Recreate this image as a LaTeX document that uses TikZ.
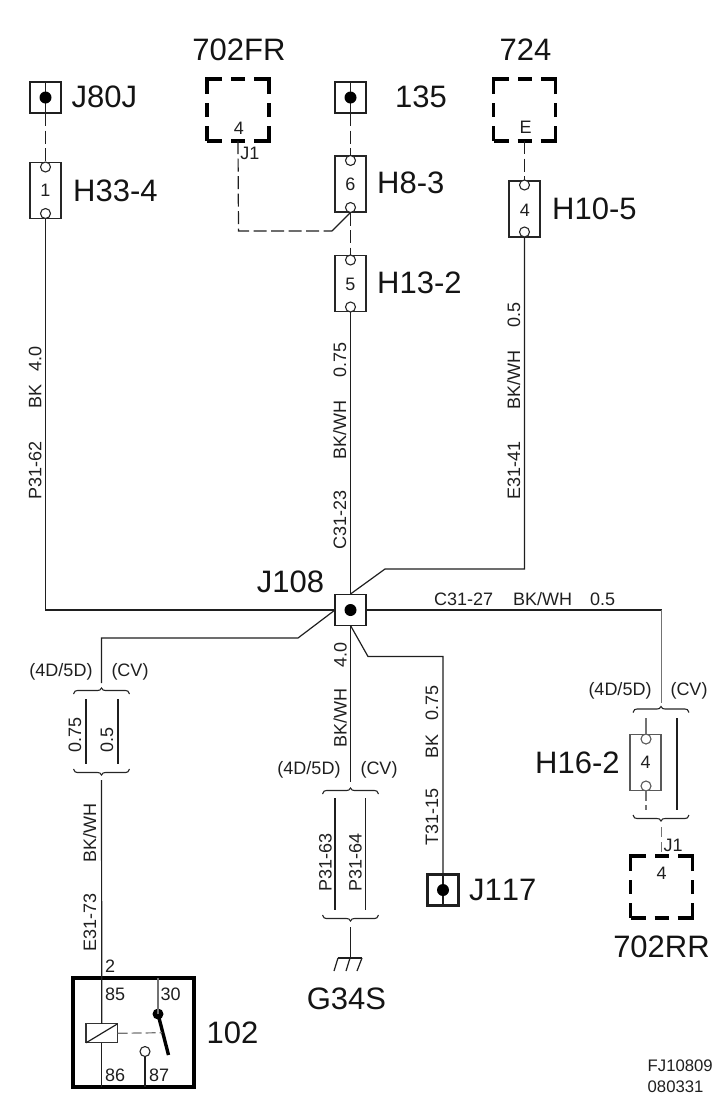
\documentclass[tikz,border=0pt]{standalone}
\usepackage{fontspec}
\setmainfont{Liberation Sans}
\newcommand{\fsz}[1]{\fontsize{#1}{#1}\selectfont}
\tikzset{
  wirel/.style={line width=1.2pt,draw=black!88},
  greyw/.style={line width=1.2pt,draw=black!55},
  dashw/.style={wirel,dash pattern=on 13pt off 4.5pt},
  jbox/.style={draw=black!88,rectangle,line width=2.2pt,minimum size=31pt,inner sep=0pt,outer sep=0pt},
  jdot/.style={circle,fill=black,draw=none,minimum size=12pt,inner sep=0pt,outer sep=0pt},
  hbox/.style={draw=black!85,rectangle,line width=1.1pt,minimum width=31pt,minimum height=56pt,inner sep=0pt,outer sep=0pt},
  pinc/.style={circle,draw=black!85,fill=white,line width=1.1pt,minimum size=10pt,inner sep=0pt,outer sep=0pt},
  dbox/.style={draw=black,rectangle,line width=3.4pt,minimum size=62pt,inner sep=0pt,outer sep=0pt,dash pattern=on 30pt off 9pt on 14pt off 9pt,dash phase=15pt},
  big/.style={font=\fsz{31},inner sep=0pt,text=black!92},
  bigl/.style={big,anchor=west},
  small/.style={font=\fsz{18},inner sep=0pt,text=black!88},
  smalll/.style={small,anchor=west},
  wl/.style={font=\fsz{18},inner sep=0pt,rotate=90,anchor=base west,text=black!88},
  hl/.style={font=\fsz{18},inner sep=0pt,anchor=base west,text=black!88},
  bracetop/.pic={\draw[line width=1.1pt,draw=black!85] (-28,6) .. controls (-27,3) and (-26,2.5) .. (-24,2.5) -- (-4,2.5) .. controls (-2,2.5) and (-1,2) .. (0,0) .. controls (1,2) and (2,2.5) .. (4,2.5) -- (24,2.5) .. controls (26,2.5) and (27,3) .. (28,6);}
}
\begin{document}
\begin{tikzpicture}[x=1pt,y=-1pt]
\useasboundingbox (0,0) rectangle (728,1112);
% boxes
\node[jbox] (J80) at (45.5,97.5) {};
\node[jbox] (B135) at (350.5,97.5) {};
\node[jbox,line width=1.8pt] (J108) at (350.5,610) {};
\node[jbox,line width=2.6pt] (J117) at (443,890) {};
\node[hbox] (H33) at (45.5,190.5) {};
\node[hbox] (H8) at (350.5,184) {};
\node[hbox] (H13) at (350.5,283.5) {};
\node[hbox] (H10) at (524.5,209) {};
\node[hbox,draw=black!65] (H16) at (645.5,762.5) {};
\node[dbox] (FR) at (238,110) {};
\node[dbox] (V724) at (524.5,110) {};
\node[dbox] (RR) at (661.5,887) {};
\node[draw=black,rectangle,line width=4pt,minimum width=121pt,minimum height=109pt,inner sep=0pt,outer sep=0pt] (relay) at (133.5,1032.5) {};
% coordinates
\coordinate (fr1) at (238.5,231);
\coordinate (fr2) at (332,231);
\coordinate (h10e) at (524.5,569);
\coordinate (h10d) at (385,569);
\coordinate (jn) at (350.5,594);
\coordinate (lc) at (45.5,610);
\coordinate (a1) at (298,638);
\coordinate (a2) at (101.5,638);
\coordinate (a3) at (101.5,683);
\coordinate (a4) at (101.5,780);
\coordinate (b3) at (350.5,782);
\coordinate (b4) at (350.5,927);
\coordinate (gnd) at (350.5,958);
\coordinate (c1) at (368,656.5);
\coordinate (c2) at (443,656.5);
\coordinate (d1) at (661.5,610);
\coordinate (d2) at (661.5,702.5);
\coordinate (d3) at (661.5,827);
\coordinate (e1) at (646,718);
\coordinate (e2) at (646,810);
\coordinate (f1) at (677,718);
\coordinate (f2) at (677,810);
\coordinate (s1) at (86,699);
\coordinate (s2) at (86,764);
\coordinate (s3) at (118,699);
\coordinate (s4) at (118,764);
\coordinate (t1) at (335,798);
\coordinate (t2) at (335,910);
\coordinate (t3) at (365.5,798);
\coordinate (t4) at (365.5,910);
% wires
\draw[wirel] (J80.north) -- (J80.center) -- (J80.south);
\draw[wirel] (B135.north) -- (B135.center) -- (B135.south);
\draw[wirel] (J117.north) -- (J117.south);
\node[pinc] (p33a) at (45.5,167) {};
\node[pinc] (p33b) at (45.5,213.5) {};
\node[pinc] (p8a) at (350.5,160.5) {};
\node[pinc] (p8b) at (350.5,207.5) {};
\node[pinc] (p13a) at (350.5,260) {};
\node[pinc] (p13b) at (350.5,307) {};
\node[pinc] (p10a) at (524.5,185) {};
\node[pinc] (p10b) at (524.5,232) {};
\node[pinc,draw=black!65] (p16a) at (646,739) {};
\node[pinc,draw=black!65] (p16b) at (646,786) {};
\draw[dashw] (J80.south) -- (p33a.north);
\draw[dashw] (B135.south) -- (p8a.north);
\draw[dashw] (p8b.south) -- (p13a.north);
\draw[dashw] (V724.south) -- (p10a.north);
\draw[dashw] (FR.south) -- (fr1) -- (fr2);
\draw[wirel] (fr2) -- (p8b.south);
\draw[wirel] (p33b.south) -- (lc) -- (J108.west);
\draw[wirel] (p13b.south) -- (J108.north);
\draw[wirel] (p10b.south) -- (h10e) -- (h10d) -- (jn);
\draw[wirel] (J108.west) -- (a1) -- (a2) -- (a3);
\draw[wirel] (J108.east) -- (d1);
\draw[greyw] (d1) -- (d2);
\draw[wirel] (J108.south) -- (b3);
\draw[wirel] (J108.south) -- (c1) -- (c2) -- (J117.north);
\draw[wirel] (s1) -- (s2);
\draw[wirel] (s3) -- (s4);
\draw[wirel] (t1) -- (t2);
\draw[wirel] (t3) -- (t4);
\draw[greyw] (e1) -- (p16a.north);
\draw[greyw,dash pattern=on 10pt off 4pt] (p16b.south) -- (e2);
\draw[wirel] (f1) -- (f2);
\draw[greyw,dash pattern=on 10pt off 5pt] (d3) -- (RR.north);
\draw[wirel] (b4) -- (gnd);
\draw[wirel] (338,958) -- (362,958);
\draw[wirel] (338,958) -- (334,971);
\draw[wirel] (350,958) -- (346,971);
\draw[wirel] (362,958) -- (357,971);
\pic at (101.5,688) {bracetop};
\pic[yscale=-1] at (101.5,775) {bracetop};
\pic at (350.5,788) {bracetop};
\pic[yscale=-1] at (350.5,921) {bracetop};
\pic at (661,706.5) {bracetop};
\pic[yscale=-1] at (661,821) {bracetop};
% dots
\node[jdot] (d80) at (J80.center) {};
\node[jdot] (d135) at (B135.center) {};
\node[jdot] (d108) at (J108.center) {};
\node[jdot] (d117) at (J117.center) {};
% pin numbers
\node[small] (n1) at (45.5,190.5) {1};
\node[small] (n6) at (350.5,184) {6};
\node[small] (n5) at (350.5,284) {5};
\node[small] (n4a) at (525,210) {4};
\node[small] (n4b) at (645.5,762) {4};
\node[small] (n4c) at (239,128) {4};
\node[small] (nE) at (525.5,127) {E};
\node[small] (n4d) at (661.5,873) {4};
\node[small] (nj1) at (250,153) {J1};
\node[small] (nj2) at (673,845.5) {J1};
% big labels
\node[bigl] (lJ80) at (71.5,97) {J80J};
\node[bigl] (lH33) at (73,190.5) {H33-4};
\node[big] (l702) at (239,50) {702FR};
\node[big] (l135) at (421,97) {135};
\node[big] (l724) at (525.5,50) {724};
\node[bigl] (lH8) at (377,183) {H8-3};
\node[bigl] (lH13) at (377,283) {H13-2};
\node[bigl] (lH10) at (552,209) {H10-5};
\node[big] (lJ108) at (290.5,581.5) {J108};
\node[bigl] (lJ117) at (469,890) {\addfontfeature{Kerning=Off}J117};
\node[bigl] (lH16) at (535,762.5) {H16-2};
\node[big] (lRR) at (661.5,947) {702RR};
\node[big] (lG) at (346.5,999) {G34S};
\node[big] (l102) at (232.5,1032.5) {102};
% brace labels
\node[small] (v1) at (61,672) {(4D/5D)};
\node[small] (v2) at (130,672) {(CV)};
\node[small] (v3) at (309,770) {(4D/5D)};
\node[small] (v4) at (379,770) {(CV)};
\node[small] (v5) at (620,690.5) {(4D/5D)};
\node[small] (v6) at (689,690.5) {(CV)};
% wire labels
\node[wl] (w1) at (41.5,500) {P31-62};
\node[wl] (w2) at (41.5,409) {BK};
\node[wl] (w3) at (41.5,372) {4.0};
\node[wl] (w4) at (346,550) {C31-23};
\node[wl] (w5) at (346,460) {BK/WH};
\node[wl] (w6) at (346,378) {0.75};
\node[wl] (w7) at (520,500) {E31-41};
\node[wl] (w8) at (520,410) {BK/WH};
\node[wl] (w9) at (520,328) {0.5};
\node[wl] (w10) at (81,753) {0.75};
\node[wl] (w11) at (113,753) {0.5};
\node[wl] (w12) at (96,863) {BK/WH};
\node[wl] (w13) at (96,952) {E31-73};
\node[wl] (w14) at (346.5,748) {BK/WH};
\node[wl] (w15) at (346.5,668) {4.0};
\node[wl] (w16) at (331.5,892) {P31-63};
\node[wl] (w17) at (361.5,892) {P31-64};
\node[wl] (w18) at (438,846) {T31-15};
\node[wl] (w19) at (438,759) {BK};
\node[wl] (w20) at (438,721) {0.75};
\node[hl] (w21) at (434,605.5) {C31-27};
\node[hl] (w22) at (513,605.5) {BK/WH};
\node[hl] (w23) at (590,605.5) {0.5};
% relay
\node[draw=black!80,rectangle,line width=1.3pt,minimum width=31.5pt,minimum height=19pt,inner sep=0pt,outer sep=0pt] (coil) at (101.8,1033.3) {};
\draw[wirel] (a4) -- (coil.north);
\draw[wirel] (coil.south) -- (coil.south |- relay.south);
\draw[wirel] (coil.south west) -- (coil.north east);
\node[jdot,minimum size=11pt] (sw) at (158,1014) {};
\coordinate (swtip) at (168.5,1055);
\draw[line width=3.4pt,draw=black] (sw.center) -- (swtip);
\draw[greyw] (sw.center |- relay.north) -- (sw.center);
\coordinate (sw2) at (162,1032.7);
\draw[greyw,dash pattern=on 10pt off 4pt] (coil.east) -- (sw2);
\node[pinc] (p87) at (145,1051.5) {};
\draw[wirel] (p87.south) -- (p87.south |- relay.south);
\node[smalll] (r2) at (105,966.5) {2};
\node[smalll] (r85) at (105,994) {85};
\node[smalll] (r30) at (160.5,994) {30};
\node[smalll] (r86) at (105,1075) {86};
\node[smalll] (r87) at (149,1075) {87};
% code
\node[smalll,font=\fsz{16.7}] (fj1) at (647.5,1065.5) {FJ10809};
\node[smalll,font=\fsz{16.7}] (fj2) at (647.5,1086.5) {080331};
\end{tikzpicture}
\end{document}
